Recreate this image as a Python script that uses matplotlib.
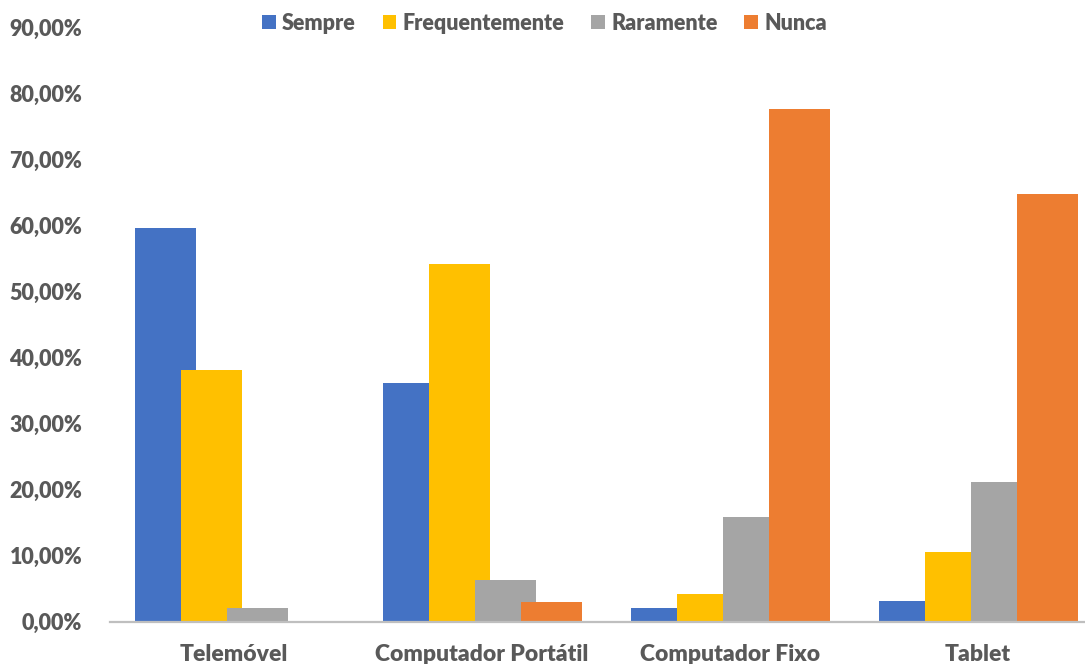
import matplotlib.pyplot as plt
import numpy as np
from matplotlib.patches import Patch
from matplotlib.ticker import FuncFormatter

categories = ["Telemóvel", "Computador Portátil", "Computador Fixo", "Tablet"]
series_names = ["Sempre", "Frequentemente", "Raramente", "Nunca"]

sempre = [59.6, 36.1, 2.0, 3.1]
frequentemente = [38.1, 54.2, 4.2, 10.5]
raramente = [2.0, 6.3, 15.8, 21.2]
nunca = [0.0, 3.0, 77.6, 64.8]

colors = ["#4472C4", "#FFC000", "#A5A5A5", "#ED7D31"]
text_color = "#595959"

plt.rcParams["font.family"] = ["Lato", "DejaVu Sans"]
plt.rcParams["font.weight"] = "heavy"

fig = plt.figure(figsize=(10.85, 6.64), dpi=100)
ax = fig.add_axes([110 / 1085, 42.5 / 664, 975 / 1085, 594 / 664])

x = np.arange(len(categories))
width = 61 / 248
step = 46 / 248
left = -(3 * step + width) / 2

all_series = [sempre, frequentemente, raramente, nunca]
for i, (vals, name, col) in enumerate(zip(all_series, series_names, colors)):
    pos = x + left + i * step + width / 2
    ax.bar(pos, vals, width, color=col, label=name, zorder=2 + i)

ax.set_xlim(-0.5, 3.431)
ax.set_ylim(0, 90)
ax.set_yticks(np.arange(0, 91, 10))
ax.yaxis.set_major_formatter(FuncFormatter(lambda v, _: f"{v:.2f}%".replace(".", ",")))
ax.set_xticks(x)
ax.set_xticklabels(categories)

for s in ["top", "right", "left"]:
    ax.spines[s].set_visible(False)
ax.spines["bottom"].set_color("#BFBFBF")
ax.spines["bottom"].set_linewidth(1.6)
ax.spines["bottom"].set_zorder(10)
ax.tick_params(axis="both", length=0, colors=text_color)
ax.tick_params(axis="x", pad=16, labelsize=16.5)
ax.tick_params(axis="y", pad=20, labelsize=15.5)
for lbl in ax.get_xticklabels() + ax.get_yticklabels():
    lbl.set_fontweight("heavy")

handles = [Patch(facecolor=c, label=n) for c, n in zip(colors, series_names)]
fig.legend(handles=handles, loc="center", bbox_to_anchor=(544.5 / 1085, 1 - 23 / 664),
           ncol=4, frameon=False, labelcolor=text_color,
           handlelength=0.62, handleheight=0.62, handletextpad=0.3, columnspacing=1.25,
           prop={"weight": "heavy", "size": 15.5})

fig.savefig("out.png", dpi=100)
